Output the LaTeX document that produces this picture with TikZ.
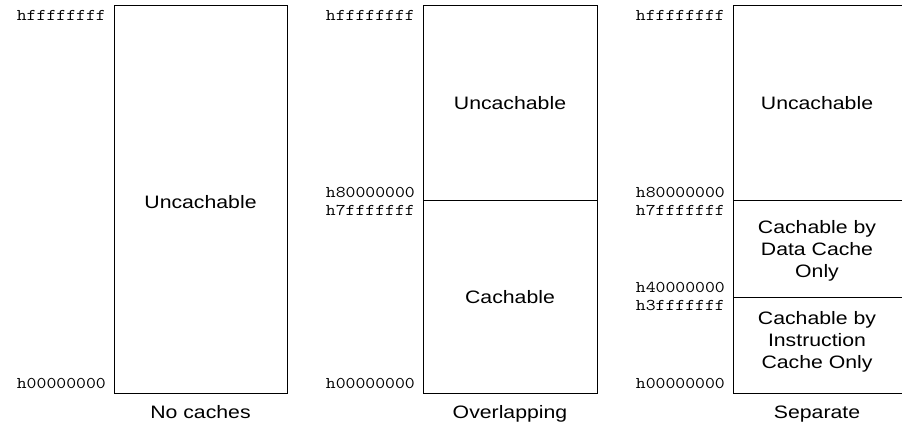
\documentclass[tikz,border=0pt]{standalone}
\usepackage{fontspec}
\usepackage{graphicx}
\newfontfamily\sansf{Liberation Sans}
\newcommand\sx[1]{\scalebox{1.18}[1]{#1}}
\newcommand\mx[1]{\scalebox{1.17}[1]{#1}}
\begin{document}
\begin{tikzpicture}[x=1pt,y=-1pt,
  memrect/.style={draw=black,line width=1pt,inner sep=0pt},
  addr/.style={font=\ttfamily\fontsize{16.4}{18}\selectfont,inner sep=0pt,anchor=base east,text=black},
  region/.style={font=\sansf\fontsize{18}{22}\selectfont,inner sep=0pt,align=center,text=black},
  regionb/.style={region,anchor=base},
  divider/.style={draw=black,line width=1pt}]
\clip (0,0) rectangle (902,425);
\fill[white] (0,0) rectangle (902,425);
% boxes
\node[memrect,minimum width=173pt,minimum height=387pt] (b1) at (200.5,199.5) {};
\node[memrect,minimum width=174pt,minimum height=387pt] (b2) at (510,199.5) {};
\node[memrect,minimum width=176pt,minimum height=387pt] (b3) at (821,199.5) {};
% dividers
\coordinate (d2l) at (423,200); \coordinate (d2r) at (597,200);
\coordinate (d3l) at (733,200); \coordinate (d3r) at (909,200);
\coordinate (d4l) at (733,297); \coordinate (d4r) at (909,297);
\draw[divider] (d2l) -- (d2r);
\draw[divider] (d3l) -- (d3r);
\draw[divider] (d4l) -- (d4r);
% address labels
\node[addr] (a1t) at (106,20.5) {\mx{hffffffff}};
\node[addr] (a1b) at (106,388) {\mx{h00000000}};
\node[addr] (a2t) at (415,20.5) {\mx{hffffffff}};
\node[addr] (a2m1) at (415,197) {\mx{h80000000}};
\node[addr] (a2m2) at (415,215) {\mx{h7fffffff}};
\node[addr] (a2b) at (415,388) {\mx{h00000000}};
\node[addr] (a3t) at (725,20.5) {\mx{hffffffff}};
\node[addr] (a3m1) at (725,197) {\mx{h80000000}};
\node[addr] (a3m2) at (725,215) {\mx{h7fffffff}};
\node[addr] (a3m3) at (725,292) {\mx{h40000000}};
\node[addr] (a3m4) at (725,310) {\mx{h3fffffff}};
\node[addr] (a3b) at (725,388) {\mx{h00000000}};
% region texts
\node[regionb] (r1) at (200.5,208) {\sx{Uncachable}};
\node[regionb] (r2a) at (510,110) {\sx{Uncachable}};
\node[regionb] (r2b) at (510,303) {\sx{Cachable}};
\node[regionb] (r3a) at (817,110) {\sx{Uncachable}};
\node[region] (r3b) at (817,251) {\sx{Cachable by}\\\sx{Data Cache}\\\sx{Only}};
\node[region] (r3c) at (817,342) {\sx{Cachable by}\\\sx{Instruction}\\\sx{Cache Only}};
% captions
\node[regionb] (c1) at (200.5,418) {\sx{No caches}};
\node[regionb] (c2) at (510,418) {\sx{Overlapping}};
\node[regionb] (c3) at (817,418) {\sx{Separate}};
\end{tikzpicture}
\end{document}
